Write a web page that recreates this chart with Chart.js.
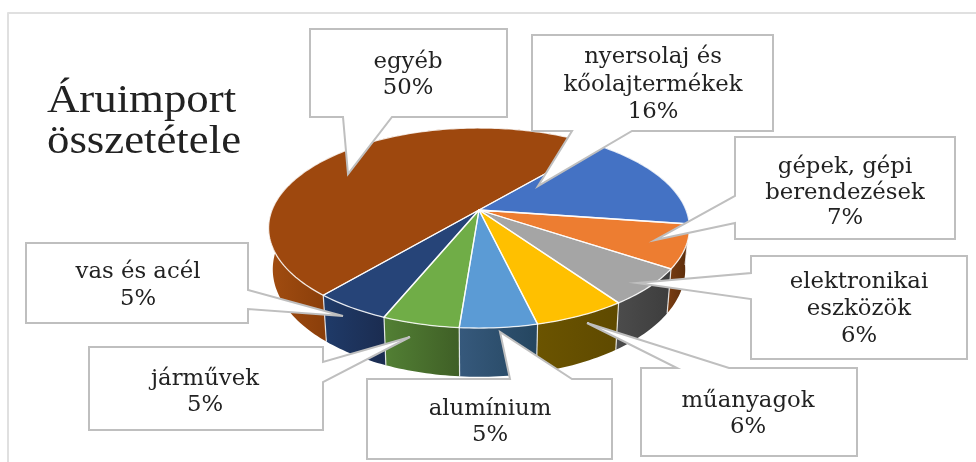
<!DOCTYPE html>
<html lang="hu">
<head>
<meta charset="utf-8">
<title>Áruimport összetétele</title>
<script src="https://cdn.jsdelivr.net/npm/chart.js@4/dist/chart.umd.min.js"></script>
<style>
html,body{margin:0;padding:0;background:#fff;overflow:hidden}
canvas{display:block;filter:blur(0.6px)}
</style>
</head>
<body>
<canvas id="c" width="976" height="462"></canvas>
<script>
// Data
const categories = ['nyersolaj és kőolajtermékek','gépek, gépi berendezések','elektronikai eszközök','műanyagok','alumínium','járművek','vas és acél','egyéb'];
const labelLines = [['nyersolaj és','kőolajtermékek'],['gépek, gépi','berendezések'],['elektronikai','eszközök'],['műanyagok'],['alumínium'],['járművek'],['vas és acél'],['egyéb']];
const shares = [16,7,6,6,5,5,5,50];
const titleLines = ['Áruimport','összetétele'];

// Styles
const sliceColors = ['#4472C4','#ED7D31','#A5A5A5','#FFC000','#5B9BD5','#70AD47','#264478','#9E480E'];
const wallLight = ['#2f5597','#7a3d12','#4c4c4c','#6b5400','#36597c','#527f34','#1f3a68','#a04c10'];
const wallDark  = ['#25447a','#5f2f0c','#3e3e3e','#5f4a00','#254660','#3f5f26','#1b2c50','#8a3e0a'];

// Tilt of the pie: vertical radius, perspective strength, thickness, narrowing of the lower plane
const TILT_RY = 0.4676, PERSPECTIVE = 0.18, THICK = 40, TAPER = 0.0005;

// Callout geometry: box [x0,y0,x1,y1], tail [base a, base b, tip], centre x, first baseline, line gap
const callouts = [
  {box:[532,35,773,131],  tail:[[572,131],[632,131],[538,186]], side:'b', cx:653, y:63,  gap:27.5},
  {box:[735,137,955,239], tail:[[735,196],[735,223],[655,240]], side:'l', cx:845, y:173, gap:25.5},
  {box:[751,256,967,359], tail:[[751,273],[751,299],[637,283]], side:'l', cx:859, y:288, gap:27},
  {box:[641,368,857,456], tail:[[677,368],[729,368],[587,323]], side:'t', cx:748, y:407, gap:26},
  {box:[367,379,612,459], tail:[[510,379],[572,379],[500,332]], side:'t', cx:490, y:415, gap:26},
  {box:[89,347,323,430],  tail:[[323,362],[323,382],[410,337]], side:'r', cx:205, y:385, gap:26},
  {box:[26,243,248,323],  tail:[[248,290],[248,309],[343,316]], side:'r', cx:138, y:278, gap:27},
  {box:[310,29,507,117],  tail:[[343,117],[392,117],[348,174]], side:'b', cx:408, y:68,  gap:26}
];

const LABEL_SX = 1.06;
const LABEL_FONT = '21.5px "DejaVu Serif"';
const TITLE_SX = 1.12;
const TITLE_FONT = '40px "Liberation Serif"';
const INK = '#222222';

function project(arc, angle, lift){
  const R = arc.outerRadius, h = lift||0;
  const u = Math.cos(angle), v = Math.sin(angle);
  const s = 1/(1 - PERSPECTIVE*v);
  return [arc.x + R*u*s*(1 - TAPER*h), arc.y + (R*TILT_RY*v + h)*s];
}
function rimPath(ctx, arc, a0, a1, lift, first){
  const n = Math.max(2, Math.ceil(Math.abs(a1-a0)/0.02));
  for(let i=0;i<=n;i++){
    const p = project(arc, a0+(a1-a0)*i/n, lift);
    if(i===0 && first) ctx.moveTo(p[0],p[1]); else ctx.lineTo(p[0],p[1]);
  }
}

const tiltedPie = {
  id:'tiltedPie',
  beforeDatasetsDraw(chart){
    const ctx = chart.ctx;
    const arcs = chart.getDatasetMeta(0).data.map((a,i)=>{
      const p = a.getProps(['x','y','startAngle','endAngle','outerRadius'],true);
      return {i,x:p.x,y:p.y,startAngle:p.startAngle,endAngle:p.endAngle,outerRadius:p.outerRadius,color:a.options.backgroundColor};
    });
    // side walls, far side first
    const order = arcs.slice().sort((a,b)=>Math.sin((a.startAngle+a.endAngle)/2)-Math.sin((b.startAngle+b.endAngle)/2));
    order.forEach(a=>{
      const p0 = project(a,a.startAngle,THICK), p1 = project(a,a.endAngle,THICK);
      const x0 = a.i===7 ? a.x-a.outerRadius : Math.min(p0[0],p1[0]);
      const x1 = a.i===7 ? p0[0] : Math.max(p0[0],p1[0]);
      const g = ctx.createLinearGradient(x0,0,x1,0);
      g.addColorStop(0,wallLight[a.i]); g.addColorStop(1,wallDark[a.i]);
      ctx.beginPath();
      rimPath(ctx,a,a.startAngle,a.endAngle,0,true);
      rimPath(ctx,a,a.endAngle,a.startAngle,THICK,false);
      ctx.closePath();
      ctx.fillStyle = g; ctx.fill();
    });
    // wall separators
    ctx.strokeStyle='rgba(255,255,255,0.8)'; ctx.lineWidth=1.2;
    arcs.forEach(a=>{
      const top=project(a,a.startAngle,0), bot=project(a,a.startAngle,THICK);
      if(Math.sin(a.startAngle)>0.05){
        ctx.beginPath(); ctx.moveTo(top[0],top[1]); ctx.lineTo(bot[0],bot[1]); ctx.stroke();
      }
    });
    // top faces
    arcs.forEach(a=>{
      ctx.beginPath();
      ctx.moveTo(a.x,a.y);
      rimPath(ctx,a,a.startAngle,a.endAngle,0,false);
      ctx.closePath();
      ctx.fillStyle=a.color; ctx.fill();
    });
    ctx.strokeStyle='rgba(255,255,255,0.85)'; ctx.lineWidth=1.3; ctx.lineJoin='round';
    arcs.forEach(a=>{
      ctx.beginPath();
      ctx.moveTo(a.x,a.y);
      rimPath(ctx,a,a.startAngle,a.endAngle,0,false);
      ctx.closePath();
      ctx.stroke();
    });
    return false; // the tilted faces above replace the flat arcs
  },
  afterDraw(chart){
    const ctx = chart.ctx;
    ctx.save();
    // frame of the pasted picture
    ctx.strokeStyle='#e0e0e0'; ctx.lineWidth=2;
    ctx.beginPath(); ctx.moveTo(8,462); ctx.lineTo(8,13); ctx.lineTo(976,13); ctx.stroke();
    // title
    ctx.fillStyle=INK; ctx.textBaseline='alphabetic'; ctx.textAlign='left';
    titleLines.forEach((t,i)=>{
      ctx.save();
      ctx.translate(47,112+i*41); ctx.scale(TITLE_SX,1);
      ctx.font=TITLE_FONT; ctx.fillText(t,0,0);
      ctx.restore();
    });
    // callouts
    callouts.forEach((c,i)=>{
      const [x0,y0,x1,y1]=c.box, [a,b,tip]=c.tail;
      ctx.beginPath();
      ctx.moveTo(x0,y0);
      if(c.side==='t'){ctx.lineTo(a[0],a[1]);ctx.lineTo(tip[0],tip[1]);ctx.lineTo(b[0],b[1]);}
      ctx.lineTo(x1,y0);
      if(c.side==='r'){ctx.lineTo(a[0],a[1]);ctx.lineTo(tip[0],tip[1]);ctx.lineTo(b[0],b[1]);}
      ctx.lineTo(x1,y1);
      if(c.side==='b'){ctx.lineTo(b[0],b[1]);ctx.lineTo(tip[0],tip[1]);ctx.lineTo(a[0],a[1]);}
      ctx.lineTo(x0,y1);
      if(c.side==='l'){ctx.lineTo(b[0],b[1]);ctx.lineTo(tip[0],tip[1]);ctx.lineTo(a[0],a[1]);}
      ctx.closePath();
      ctx.fillStyle='#fff'; ctx.fill();
      ctx.strokeStyle='#bfbfbf'; ctx.lineWidth=2; ctx.lineJoin='miter'; ctx.stroke();
      const lines = labelLines[i].concat(shares[i]+'%');
      ctx.fillStyle=INK; ctx.textAlign='center';
      lines.forEach((t,j)=>{
        ctx.save();
        ctx.translate(c.cx,c.y+j*c.gap); ctx.scale(LABEL_SX,1);
        ctx.font=LABEL_FONT; ctx.fillText(t,0,0);
        ctx.restore();
      });
    });
    ctx.restore();
  }
};

new Chart(document.getElementById('c'),{
  type:'pie',
  data:{labels:categories,datasets:[{data:shares,backgroundColor:sliceColors,borderWidth:0}]},
  options:{
    responsive:false,animation:false,rotation:40.5,
    layout:{padding:{left:272,right:290,top:3,bottom:45}},
    plugins:{legend:{display:false},tooltip:{enabled:false}}
  },
  plugins:[tiltedPie]
});
</script>
</body>
</html>
